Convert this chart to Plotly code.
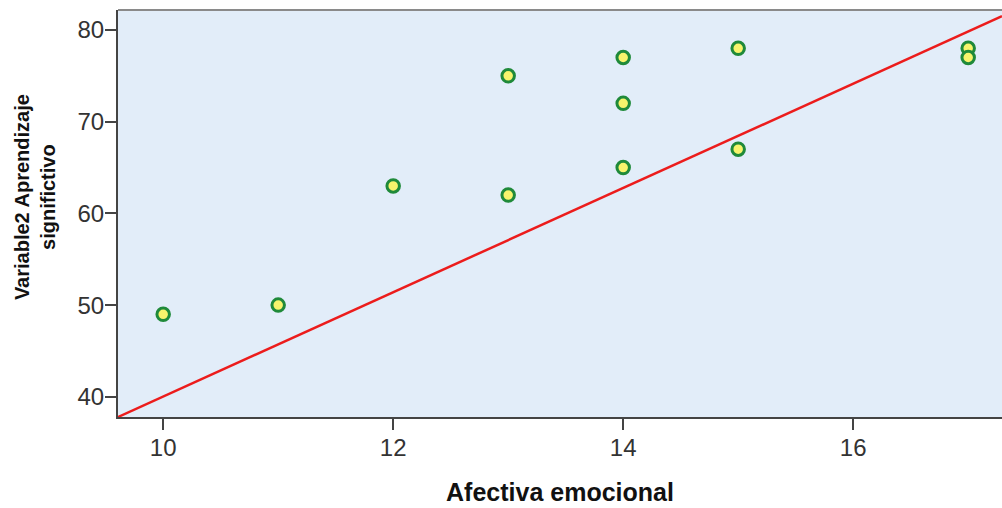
import plotly.graph_objects as go

afectiva = [10, 11, 12, 13, 13, 14, 14, 14, 15, 15, 17, 17]
aprendizaje = [49, 50, 63, 75, 62, 77, 72, 65, 78, 67, 78, 77]

line_x = [9.607, 17.294]
line_y = [37.8, 81.5]

x_ticks = [10, 12, 14, 16]
y_ticks = [40, 50, 60, 70, 80]

fig = go.Figure()
fig.add_trace(go.Scatter(x=line_x, y=line_y, mode="lines",
                         line=dict(color="#ec1c1c", width=2.5), showlegend=False,
                         hoverinfo="skip"))
fig.add_trace(go.Scatter(x=afectiva, y=aprendizaje, mode="markers",
                         marker=dict(size=12.5, color="#f7f46c",
                                     line=dict(color="#1f8a3a", width=3)),
                         showlegend=False))

font_family = "Liberation Sans, Arial, sans-serif"
fig.update_layout(
    width=1002, height=508,
    margin=dict(l=118, r=0, t=10, b=91, autoexpand=False),
    paper_bgcolor="white",
    plot_bgcolor="#e2edf9",
    font=dict(family=font_family, color="#333333"),
    xaxis=dict(range=[9.607, 17.294], tickvals=x_ticks, showgrid=False, zeroline=False,
               automargin=False,
               showline=True, linecolor="#444444", linewidth=2, mirror=False,
               ticks="outside", ticklen=11, tickwidth=2, tickcolor="#444444",
               ticklabelstandoff=-3,
               tickfont=dict(size=24, color="#333333"),
               title=dict(text="<b>Afectiva emocional</b>", standoff=24,
                          font=dict(size=25, color="#111111"))),
    yaxis=dict(range=[37.8, 82.18], tickvals=y_ticks, showgrid=False, zeroline=False,
               automargin=False,
               showline=True, linecolor="#444444", linewidth=2,
               ticks="outside", ticklen=11, tickwidth=2, tickcolor="#444444",
               ticklabelstandoff=-4,
               tickfont=dict(size=24, color="#333333")),
    annotations=[dict(text="<b>Variable2 Aprendizaje<br>significtivo</b>",
                      xref="paper", yref="paper", x=-0.094, y=0.54,
                      xanchor="center", yanchor="middle", textangle=-90,
                      showarrow=False, font=dict(size=20, color="#111111"))],
    shapes=[dict(type="line", xref="paper", yref="paper", x0=0, x1=1, y0=1, y1=1,
                 line=dict(color="#8a8a8a", width=2))],
)

fig.write_html("out.html", config={"displayModeBar": False},
               post_script="document.body.style.margin='0';document.body.style.overflow='hidden';")
